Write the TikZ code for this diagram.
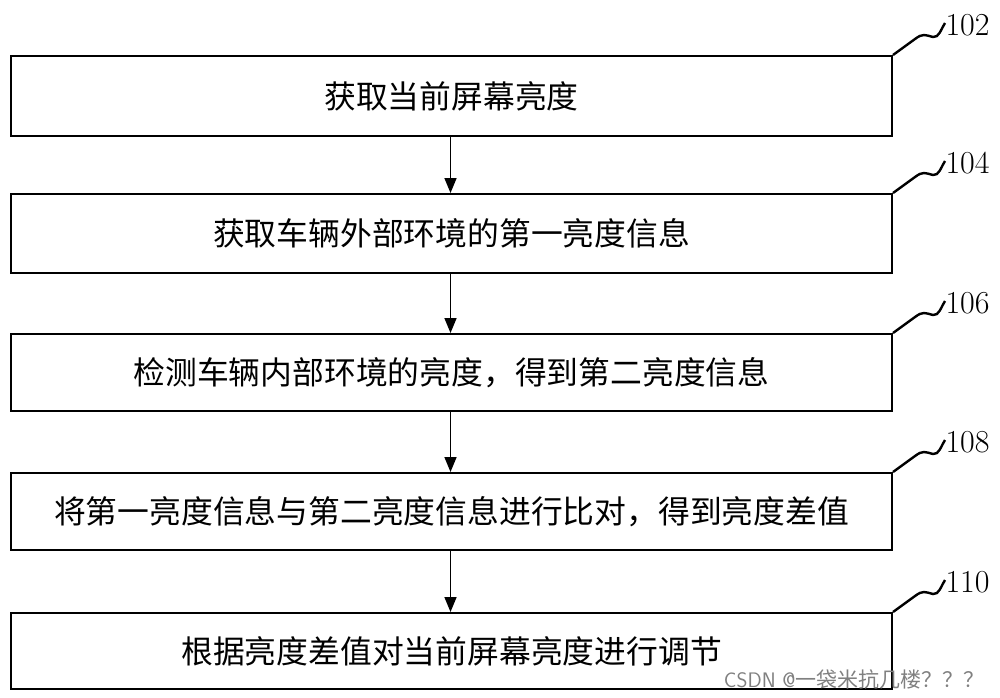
\documentclass[tikz,border=0pt]{standalone}
\usepackage{fontspec}
\newfontfamily\cjk{Noto Sans CJK SC}
\usetikzlibrary{arrows.meta}
\begin{document}
\begin{tikzpicture}[x=1pt,y=-1pt,
  stepbox/.style={draw,line width=2pt,minimum width=881pt,anchor=north west,inner sep=0pt,font=\cjk\fontsize{31.8}{34}\selectfont},
  lbl/.style={font=\fontsize{32}{34}\selectfont,anchor=west},
  arr/.style={-{Triangle[length=15pt,width=12pt]},line width=1.6pt},
  sq/.style={line width=2.4pt}]
\useasboundingbox (0,0) rectangle (1000,697);
\node[stepbox,minimum height=80pt] (b1) at (10,55) {获取当前屏幕亮度};
\node[stepbox,minimum height=79pt] (b2) at (10,193) {获取车辆外部环境的第一亮度信息};
\node[stepbox,minimum height=77pt] (b3) at (10,333) {检测车辆内部环境的亮度，得到第二亮度信息};
\node[stepbox,minimum height=77pt] (b4) at (10,472) {将第一亮度信息与第二亮度信息进行比对，得到亮度差值};
\node[stepbox,minimum height=76pt] (b5) at (10,612) {根据亮度差值对当前屏幕亮度进行调节};
\foreach \a/\b in {b1/b2,b2/b3,b3/b4,b4/b5}
  \draw[arr] ([xshift=-1pt]\a.south) -- ([xshift=-1pt]\b.north);
\foreach \b/\t in {b1/102,b2/104,b3/106,b4/108,b5/110}{
  \draw[sq] (\b.north east) -- ++(22,-16) .. controls ++(8,-6) and ++(-8,-2) .. ++(18,-2)
     .. controls ++(6,1) and ++(-4,6) .. ++(12,-14) coordinate (\b e);
  \node[lbl] (\b l) at ([xshift=-3pt,yshift=-2pt]\b e) {\t};
}
\node[font=\sffamily\fontsize{21}{24}\selectfont,text=gray,anchor=east] (wm) at (988,679) {CSDN @{\cjk 一袋米抗几楼？？？}};
\end{tikzpicture}
\end{document}
